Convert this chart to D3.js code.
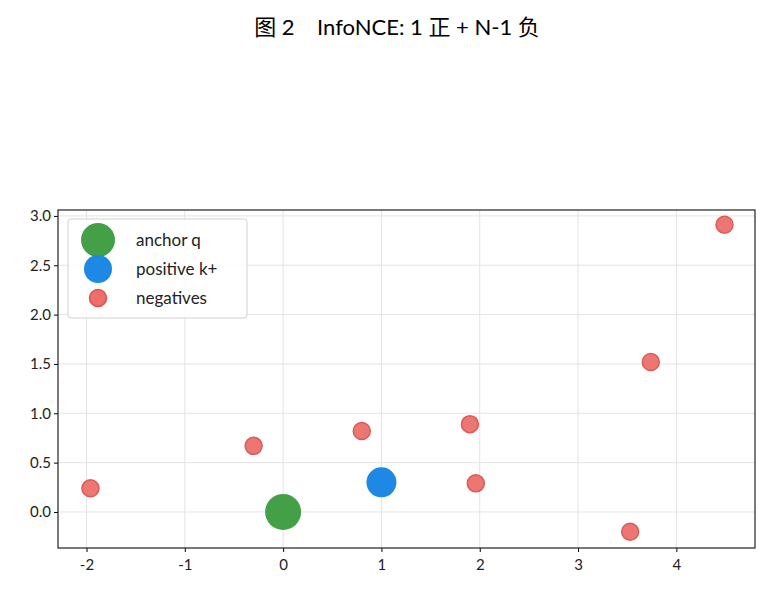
<!DOCTYPE html>
<html><head><meta charset="utf-8">
<script src="https://cdn.jsdelivr.net/npm/d3@7"></script>
<style>body{margin:0;background:#fff;font-family:Lato,"Noto Sans CJK SC",sans-serif}</style>
</head><body>
<svg id="chart" width="770" height="597"></svg>
<script>
const anchor = [[0, 0]];
const positive = [[1.0, 0.30]];
const negX = [-1.96, -0.30, 0.80, 1.90, 1.96, 3.53, 3.74, 4.49];
const negY = [0.24, 0.67, 0.82, 0.89, 0.29, -0.20, 1.52, 2.91];
const xTicks = [-2, -1, 0, 1, 2, 3, 4];
const yTicks = [0, 0.5, 1, 1.5, 2, 2.5, 3];

const svg = d3.select("#chart");
const m = {l: 58, r: 755, t: 210, b: 548};
const x = d3.scaleLinear().domain([-2.29, 4.80]).range([m.l, m.r]);
const y = d3.scaleLinear().domain([-0.365, 3.06]).range([m.b, m.t]);

svg.append("text").attr("x", 397).attr("y", 35).attr("text-anchor", "middle")
  .style("font-size", "22px").style("white-space", "pre")
  .style("font-family", "Lato,'Noto Sans CJK SC',sans-serif")
  .text("图 2    InfoNCE: 1 正 + N-1 负");

// grid
svg.append("g").selectAll("line").data(xTicks).join("line")
  .attr("x1", d => x(d)).attr("x2", d => x(d)).attr("y1", m.t).attr("y2", m.b)
  .attr("stroke", "#e3e3e3");
svg.append("g").selectAll("line").data(yTicks).join("line")
  .attr("y1", d => y(d)).attr("y2", d => y(d)).attr("x1", m.l).attr("x2", m.r)
  .attr("stroke", "#e3e3e3");

const xa = svg.append("g").attr("transform", `translate(0,${m.b})`)
  .call(d3.axisBottom(x).tickValues(xTicks).tickSize(4).tickFormat(d => String(d)));
const ya = svg.append("g").attr("transform", `translate(${m.l},0)`)
  .call(d3.axisLeft(y).tickValues(yTicks).tickSize(4).tickFormat(d => d.toFixed(1)));
[xa, ya].forEach(a => { a.selectAll("text").style("font-size", "15px").style("font-family", "Lato,sans-serif").attr("fill", "#222"); a.select(".domain").remove(); });
xa.selectAll("text").attr("dy", "1.0em");

svg.append("rect").attr("x", m.l).attr("y", m.t).attr("width", m.r - m.l).attr("height", m.b - m.t)
  .attr("fill", "none").attr("stroke", "#222").attr("stroke-width", 1.2);

const negs = negX.map((v, i) => [v, negY[i]]);
svg.append("g").selectAll("circle").data(negs).join("circle")
  .attr("cx", d => x(d[0])).attr("cy", d => y(d[1])).attr("r", 8.5)
  .attr("fill", "#ec6f6b").attr("stroke", "#d9534f").attr("stroke-width", 1.5).attr("opacity", 0.95);
svg.append("g").selectAll("circle").data(positive).join("circle")
  .attr("cx", d => x(d[0])).attr("cy", d => y(d[1])).attr("r", 15).attr("fill", "#1e88e5");
svg.append("g").selectAll("circle").data(anchor).join("circle")
  .attr("cx", d => x(d[0])).attr("cy", d => y(d[1])).attr("r", 18).attr("fill", "#43a047");

// legend
const lg = svg.append("g");
lg.append("rect").attr("x", 68).attr("y", 219).attr("width", 179).attr("height", 99).attr("rx", 3)
  .attr("fill", "#fff").attr("fill-opacity", 0.85).attr("stroke", "#d0d0d0");
const items = [["anchor q", "#43a047", 17, null], ["positive k+", "#1e88e5", 14, null], ["negatives", "#ec6f6b", 8.5, "#d9534f"]];
items.forEach((it, i) => {
  const cy = 240 + i * 29;
  lg.append("circle").attr("cx", 98).attr("cy", cy).attr("r", it[2]).attr("fill", it[1])
    .attr("stroke", it[3] || "none").attr("stroke-width", 1.5);
  lg.append("text").attr("x", 136).attr("y", cy + 5.5).style("font-size", "17px").attr("fill", "#222").text(it[0]);
});
</script>
</body></html>
